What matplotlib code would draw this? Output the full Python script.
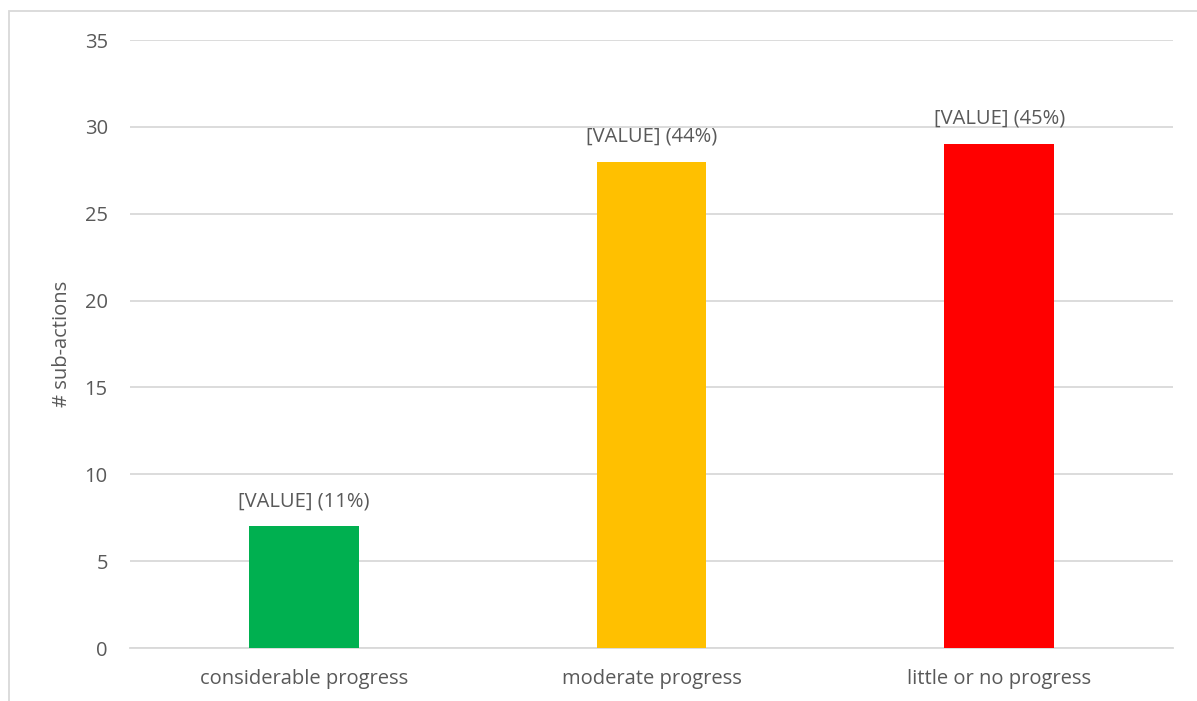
import matplotlib.pyplot as plt
from matplotlib.patches import Rectangle

plt.rcParams['font.family'] = ['Open Sans', 'DejaVu Sans']

# data
categories = ['considerable progress', 'moderate progress', 'little or no progress']
counts = [7, 28, 29]
bar_labels = ['[VALUE] (11%)', '[VALUE] (44%)', '[VALUE] (45%)']
colors = ['#00b050', '#ffc000', '#ff0000']
yticks = [0, 5, 10, 15, 20, 25, 30, 35]

txt = '#595959'
grid = '#d9d9d9'
fs = 14.5

fig = plt.figure(figsize=(11.97, 7.01), dpi=100)
ax = fig.add_axes([130 / 1197, 53 / 701, 1043 / 1197, 608 / 701])

x = range(len(categories))
bars = ax.bar(x, counts, width=0.316, color=colors, zorder=3)

for b, lab in zip(bars, bar_labels):
    ax.annotate(lab, (b.get_x() + b.get_width() / 2, b.get_height()),
                xytext=(0, 11), textcoords='offset points',
                ha='center', va='bottom', fontsize=fs, color=txt)

ax.set_xlim(-0.5, 2.5)
ax.set_ylim(0, 35)
ax.set_yticks(yticks)
ax.set_xticks(list(x))
ax.set_xticklabels(categories)
ax.yaxis.grid(True, color=grid, linewidth=1.3, zorder=0)
ax.tick_params(axis='both', length=0, labelsize=fs, labelcolor=txt)
ax.tick_params(axis='y', pad=16)
ax.tick_params(axis='x', pad=15)
for s in ['top', 'right', 'left']:
    ax.spines[s].set_visible(False)
ax.spines['bottom'].set_color(grid)
ax.spines['bottom'].set_linewidth(1.3)
ax.set_ylabel('# sub-actions', fontsize=fs, color=txt, labelpad=9)

# chart border (cut off on right/bottom)
fig.patches.append(Rectangle((9 / 1197, -0.1), 1.2, (701 - 11) / 701 + 0.1,
                             transform=fig.transFigure, fill=False,
                             edgecolor=grid, linewidth=1.3))

fig.savefig('out.png', dpi=100)
